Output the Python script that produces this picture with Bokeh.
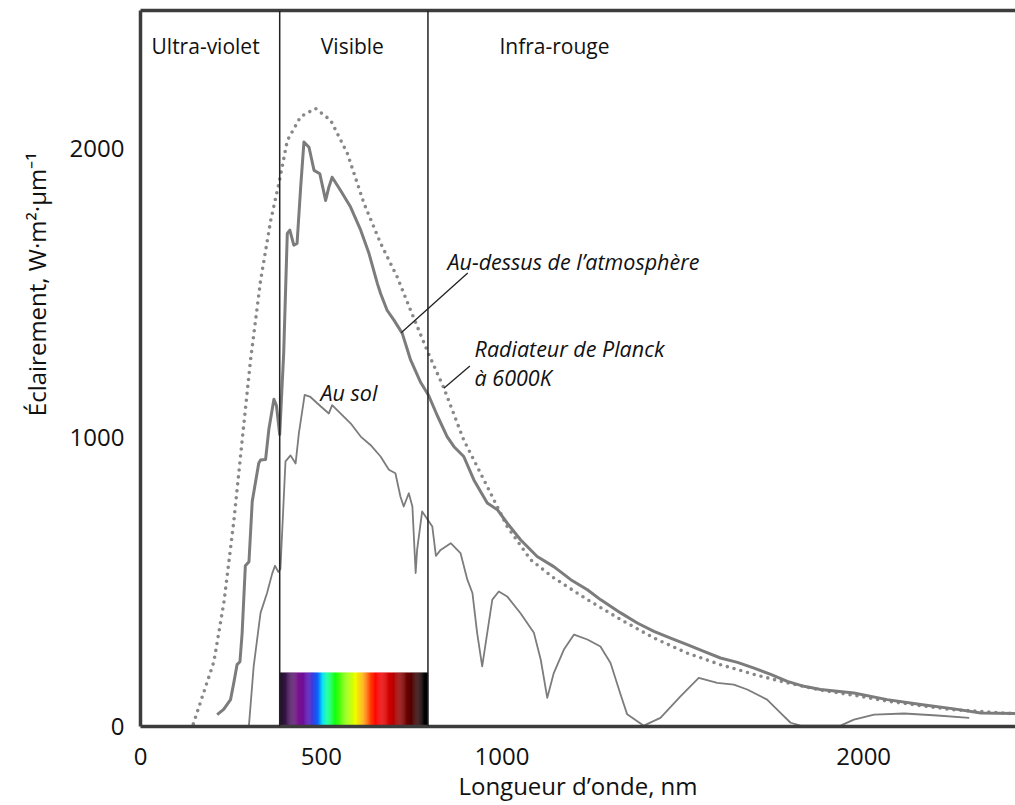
import math
from bokeh.plotting import figure
from bokeh.models import Range1d, FixedTicker, LinearAxis, Span
from bokeh.core.properties import value
from bokeh.embed import file_html
from bokeh.resources import INLINE

FONT = "Open Sans"

# ---------------- data ----------------
planck_wl = [146, 203, 231, 258, 281, 304, 332, 360, 383, 406, 443, 484, 526, 572, 618, 664, 710,
             747, 793, 839, 894, 959, 1014, 1079, 1143, 1236, 1328, 1420, 1512, 1604, 1697, 1789,
             1881, 1973, 2065, 2158, 2250, 2420]
planck_val = [9, 224, 432, 709, 988, 1264, 1542, 1750, 1880, 2027, 2110, 2138, 2097, 1983, 1810, 1672, 1555,
              1440, 1300, 1171, 991, 830, 692, 577, 514, 439, 370, 306, 254, 214, 180, 151,
              126, 108, 88, 72, 58, 44]

atm_wl = [212, 230, 249, 258, 267, 275, 281, 290, 300, 309, 327, 332, 346, 355, 369, 376, 385, 396,
          406, 413, 424, 433, 443, 452, 466, 480, 496, 512, 521, 530, 553, 581, 609, 632, 655, 664,
          682, 701, 724, 747, 775, 797, 821, 848, 867, 894, 922, 959, 987, 1014, 1051, 1097, 1143,
          1190, 1236, 1272, 1328, 1374, 1420, 1466, 1512, 1558, 1604, 1651, 1697, 1743, 1789, 1835,
          1881, 1973, 2065, 2158, 2250, 2324, 2420]
atm_val = [41, 59, 93, 151, 214, 224, 321, 556, 570, 778, 911, 922, 924, 1028, 1132, 1110, 1010, 1291,
           1706, 1717, 1665, 1671, 1866, 2022, 2004, 1924, 1912, 1820, 1866, 1900, 1855, 1797, 1717, 1636, 1533, 1498,
           1440, 1406, 1360, 1268, 1190, 1145, 1075, 1003, 968, 934, 853, 773, 750, 704, 646, 588, 553,
           508, 473, 439, 393, 358, 329, 306, 283, 260, 237, 222, 202, 180, 156, 139,
           128, 116, 93, 76, 61, 47, 45]

sol_wl = [300, 313, 332, 350, 364, 372, 381, 387, 401, 415, 429, 438, 454, 470, 498, 521, 530, 553,
          581, 609, 636, 664, 687, 705, 719, 728, 742, 752, 761, 765, 779, 793, 807, 817, 830, 858,
          885, 904, 918, 931, 945, 959, 973, 991, 1014, 1051, 1088, 1107, 1125, 1143, 1171, 1199,
          1236, 1272, 1300, 1328, 1346, 1392, 1438, 1494, 1544, 1595, 1641, 1678, 1733, 1770, 1798,
          1826, 1936, 1973, 2029, 2112, 2204, 2292]
sol_val = [5, 208, 393, 462, 528, 556, 535, 545, 917, 938, 910, 1014, 1147, 1140, 1108, 1083, 1112, 1083,
           1049, 1003, 974, 934, 888, 876, 795, 761, 807, 761, 531, 611, 744, 718, 692, 590, 611, 634,
           600, 508, 462, 324, 208, 324, 439, 467, 450, 392, 324, 231, 99, 185, 266, 318,
           301, 277, 220, 110, 42, 3, 30, 105, 168, 151, 145, 128, 93, 47, 13,
           3, 3, 24, 41, 45, 38, 30]

band_edges = [385, 795]            # UV | visible | IR boundaries (nm)
bar_top = 187                      # height of the spectrum strip (data units)

region_names = ["Ultra-violet", "Visible", "Infra-rouge"]
region_x = [180, 586, 1145]
region_y = [2353, 2353, 2353]

x_ticks = [0, 500, 1000, 2000]
y_ticks = [0, 1000, 2000]

x_title = "Longueur d\u2019onde, nm"
y_title = "\u00c9clairement, W\u00b7m\u00b2\u00b7\u00b5m\u207b\u00b9"

spec_pos = [0.00, 0.07, 0.13, 0.19, 0.22, 0.26, 0.285, 0.32, 0.37, 0.44, 0.51, 0.56, 0.60, 0.65,
            0.74, 0.83, 0.92, 0.97, 1.00]
spec_col = ["#1e1226", "#4a1560", "#7b0f8e", "#5a10b0", "#1a1ad8", "#0a70ff", "#00d8ff", "#00ff9a",
            "#10ff10", "#80ff00", "#f0ff00", "#ffb000", "#ff5000", "#ff0000", "#d00000", "#800000",
            "#3a0000", "#000000", "#000000"]

ann_text = ["Au-dessus de l\u2019atmosph\u00e8re", "Radiateur de Planck", "\u00e0 6000K", "Au sol"]
ann_x = [849, 924, 924, 498]
ann_y = [1610, 1309, 1209, 1157]

ptr_x0 = [721, 839]
ptr_y0 = [1362, 1170]
ptr_x1 = [905, 911]
ptr_y1 = [1569, 1247]

# ---------------- figure ----------------
p = figure(width=1015, height=804, output_backend="svg", toolbar_location=None,
           x_range=Range1d(0, 2420), y_range=Range1d(0, 2477),
           min_border_left=140, min_border_right=0, min_border_top=10, min_border_bottom=77)
p.outline_line_color = None
p.grid.visible = False
p.background_fill_color = "white"
p.border_fill_color = "white"

AX = "#3c3c3c"
TXT = "#111111"
xa = p.xaxis[0]
xa.ticker = FixedTicker(ticks=x_ticks)
xa.major_tick_out = 0
xa.major_tick_in = 0
xa.minor_tick_out = 0
xa.minor_tick_in = 0
xa.axis_line_width = 3.5
xa.axis_line_color = AX
xa.major_label_text_font = FONT
xa.major_label_text_font_size = "24px"
xa.major_label_text_color = TXT
xa.major_label_text_line_height = 0.8
xa.major_label_standoff = 21
xa.axis_label = x_title
xa.axis_label_text_font = FONT
xa.axis_label_text_font_size = "24px"
xa.axis_label_text_font_style = "normal"
xa.axis_label_text_color = TXT
xa.axis_label_text_line_height = 0.8
xa.axis_label_standoff = 1

ya = p.yaxis[0]
ya.ticker = FixedTicker(ticks=y_ticks)
ya.major_tick_out = 0
ya.major_tick_in = 0
ya.minor_tick_out = 0
ya.minor_tick_in = 0
ya.axis_line_width = 3.5
ya.axis_line_color = AX
ya.major_label_text_font = FONT
ya.major_label_text_font_size = "24px"
ya.major_label_text_color = TXT
ya.major_label_standoff = 16
# leading no-break spaces lift the title towards the top, as in the reference
ya.axis_label = "\u00a0" * 27 + y_title
ya.axis_label_text_font = FONT
ya.axis_label_text_font_size = "24px"
ya.axis_label_text_font_style = "normal"
ya.axis_label_text_color = TXT
ya.axis_label_standoff = 14

top = LinearAxis(ticker=FixedTicker(ticks=[]), major_tick_out=0, major_tick_in=0,
                 minor_tick_out=0, minor_tick_in=0, major_label_text_font_size="0px",
                 major_label_standoff=0, axis_line_width=3.5, axis_line_color=AX)
p.add_layout(top, "above")

# spectrum strip
n = 140
lo, hi = band_edges
def hex2rgb(h):
    return tuple(int(h[i:i + 2], 16) for i in (1, 3, 5))
stops = [hex2rgb(c) for c in spec_col]
lefts, rights, cols = [], [], []
for i in range(n):
    f = (i + 0.5) / n
    k = 0
    while k < len(spec_pos) - 2 and f > spec_pos[k + 1]:
        k += 1
    t = (f - spec_pos[k]) / (spec_pos[k + 1] - spec_pos[k])
    t = min(max(t, 0), 1)
    rgb = [round(stops[k][j] + (stops[k + 1][j] - stops[k][j]) * t) for j in range(3)]
    cols.append("#%02x%02x%02x" % tuple(rgb))
    lefts.append(lo + (hi - lo) * i / n)
    rights.append(lo + (hi - lo) * (i + 1) / n + 0.6)
p.quad(left=lefts, right=rights, bottom=0, top=bar_top, fill_color=cols, line_color=None)

# curves
p.line(planck_wl, planck_val, line_color="#888888", line_width=3.6, line_dash="0 7", line_cap="round")
p.line(atm_wl, atm_val, line_color="#7c7c7c", line_width=3, line_join="round")
p.line(sol_wl, sol_val, line_color="#7c7c7c", line_width=1.8, line_join="round")

# band boundaries
for b in band_edges:
    p.add_layout(Span(location=b, dimension="height", line_color="#222222", line_width=1.5))

# region labels
p.text(x=region_x, y=region_y, text=region_names, text_font=value(FONT), text_font_size="21px",
       text_align="center", text_baseline="middle", text_color=TXT)

# annotations
p.segment(x0=ptr_x0, y0=ptr_y0, x1=ptr_x1, y1=ptr_y1, line_color="#222222", line_width=1.3)
p.text(x=ann_x, y=ann_y, text=ann_text, text_font=value(FONT), text_font_size="21.5px",
       text_font_style="italic", text_align="left", text_baseline="middle", text_color=TXT)

open("out.html", "w").write(file_html(p, INLINE))
